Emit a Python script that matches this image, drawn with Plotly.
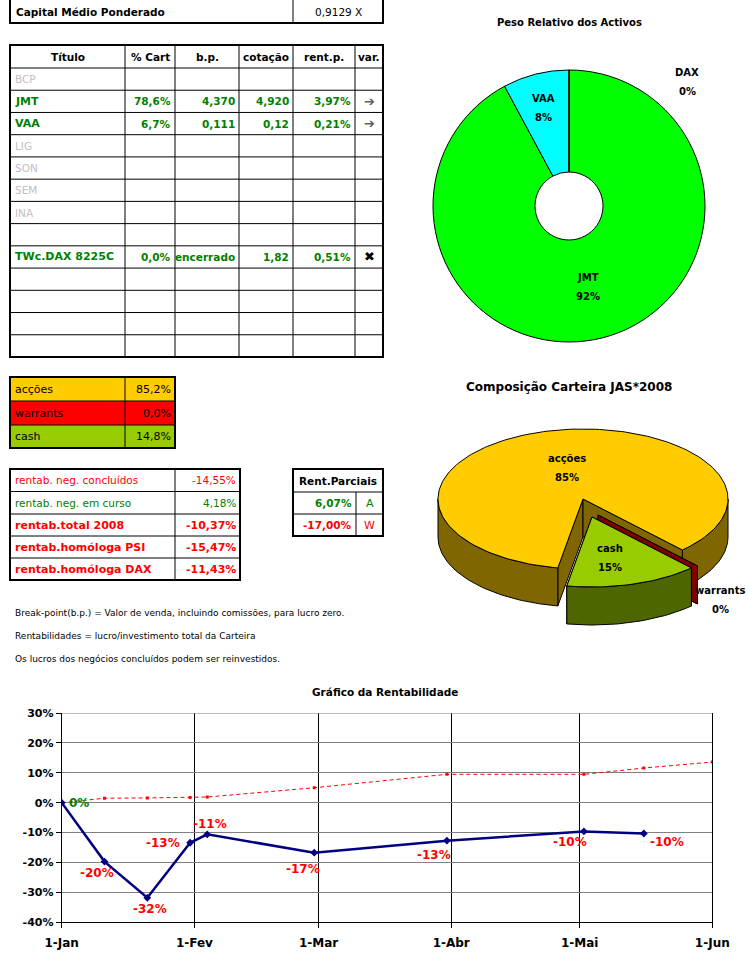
import numpy as np
import plotly.graph_objects as go

W, H = 749, 968
FONT = "DejaVu Sans"

# ---------------- data ----------------
capital_label = "Capital Médio Ponderado"
capital_value = "0,9129 X"

headers = ["Título", "% Cart", "b.p.", "cotação", "rent.p.", "var."]
titles = ["BCP", "JMT", "VAA", "LIG", "SON", "SEM", "INA", "", "TWc.DAX 8225C", "", "", "", ""]
pct_cart = ["", "78,6%", "6,7%", "", "", "", "", "", "0,0%", "", "", "", ""]
break_point = ["", "4,370", "0,111", "", "", "", "", "", "encerrado", "", "", "", ""]
cotacao = ["", "4,920", "0,12", "", "", "", "", "", "1,82", "", "", "", ""]
rent_p = ["", "3,97%", "0,21%", "", "", "", "", "", "0,51%", "", "", "", ""]
var_mark = ["", "➔", "➔", "", "", "", "", "", "✖", "", "", "", ""]
row_active = [False, True, True, False, False, False, False, False, True, False, False, False, False]

comp_labels = ["acções", "warrants", "cash"]
comp_values = [85.2, 0.0, 14.8]

rent_labels = ["rentab. neg. concluídos", "rentab. neg. em curso", "rentab.total 2008",
               "rentab.homóloga PSI", "rentab.homóloga DAX"]
rent_values = [-14.55, 4.18, -10.37, -15.47, -11.43]

parc_title = "Rent.Parciais"
parc_values = [6.07, -17.00]
parc_tags = ["A", "W"]

notes = ["Break-point(b.p.) = Valor de venda, incluindo comissões, para lucro zero.",
         "Rentabilidades = lucro/investimento total da Carteira",
         "Os lucros dos negócios concluídos podem ser reinvestidos."]

asset_names = ["JMT", "VAA", "DAX"]
asset_weights = [78.6, 6.7, 0.0]

perf_dates = ["2008-01-01", "2008-01-11", "2008-01-21", "2008-01-31", "2008-02-04",
              "2008-02-29", "2008-03-31", "2008-05-02", "2008-05-16"]
perf_values = [0.0, -0.197, -0.318, -0.134, -0.106, -0.167, -0.127, -0.096, -0.103]
bench_dates = perf_dates + ["2008-06-01"]
bench_values = [0.0, 0.015, 0.016, 0.017, 0.019, 0.050, 0.095, 0.095, 0.116, 0.136]

month_ticks = ["2008-01-01", "2008-02-01", "2008-03-01", "2008-04-01", "2008-05-01", "2008-06-01"]
month_labels = ["1-Jan", "1-Fev", "1-Mar", "1-Abr", "1-Mai", "1-Jun"]
pct_ticks = [-0.4, -0.3, -0.2, -0.1, 0.0, 0.1, 0.2, 0.3]

# ---------------- styles ----------------
GREEN = "#008000"
GREY = "#C0C0C0"
RED = "#FF0000"
comp_colors = ["#FFCC00", "#FF0000", "#99CC00"]
comp_side = ["#806600", "#800000", "#4D6600"]
asset_colors = ["#00FF00", "#00FFFF", "#FF00FF"]


def fmt(v, dec):
    return f"{v:.{dec}f}%".replace(".", ",")


shapes, annots = [], []


def line(x0, y0, x1, y1, w=1, color="black"):
    shapes.append(dict(type="line", xref="x2", yref="y2", x0=x0, y0=y0, x1=x1, y1=y1,
                       line=dict(color=color, width=w)))


def rect(x0, y0, x1, y1, fill=None, w=1):
    shapes.append(dict(type="rect", xref="x2", yref="y2", x0=x0, y0=y0, x1=x1, y1=y1,
                       line=dict(color="black", width=w),
                       fillcolor=fill if fill else "rgba(0,0,0,0)"))


def fillrect(x0, y0, x1, y1, fill):
    shapes.append(dict(type="rect", xref="x2", yref="y2", x0=x0, y0=y0, x1=x1, y1=y1,
                       line=dict(width=0), fillcolor=fill))


def text(x, y, s, color="black", size=11, bold=False, anchor="left", ref="2"):
    annots.append(dict(xref="x" + ref, yref="y" + ref, x=x, y=y, text=s, showarrow=False,
                       xanchor=anchor, yanchor="middle",
                       font=dict(family=FONT, size=size, color=color,
                                 weight="bold" if bold else "normal")))


# ---- capital box ----
rect(10, -3, 383, 23, w=2)
line(293, -3, 293, 23, w=1)
text(14, 12, capital_label, size=10.5, bold=True)
text(338, 12, capital_value, size=10.5, anchor="center")

# ---- main table ----
cols = [10, 125, 175, 239, 293, 355, 383]
rows = [45, 68] + [68 + 22.23 * (i + 1) for i in range(len(titles))]
for x in cols[1:-1]:
    line(x, rows[0], x, rows[-1])
for y in rows[1:-1]:
    line(cols[0], y, cols[-1], y)
rect(cols[0], rows[0], cols[-1], rows[-1], w=2)
for j, h in enumerate(headers):
    text((cols[j] + cols[j + 1]) / 2, (rows[0] + rows[1]) / 2, h, size=10.5, bold=True, anchor="center")
for i in range(len(titles)):
    yc = (rows[i + 1] + rows[i + 2]) / 2
    act = row_active[i]
    col = GREEN if act else GREY
    if titles[i]:
        text(13, yc, titles[i], color=col, size=11 if act else 10.5, bold=act)
    for j, arr in enumerate([pct_cart, break_point, cotacao, rent_p]):
        if arr[i]:
            text(cols[j + 2] - 2, yc, arr[i], color=col, size=10.5, bold=True, anchor="right")
    if var_mark[i]:
        mcol = "#606060" if var_mark[i] == "➔" else "black"
        text((cols[5] + cols[6]) / 2, yc, var_mark[i], color=mcol, size=13, anchor="center")

# ---- composition table ----
ccols = [10, 125, 175]
crows = [377, 401, 425, 448]
for i, lab in enumerate(comp_labels):
    fillrect(ccols[0], crows[i], ccols[2], crows[i + 1], comp_colors[i])
for y in crows[1:-1]:
    line(ccols[0], y, ccols[2], y)
line(ccols[1], crows[0], ccols[1], crows[-1])
rect(ccols[0], crows[0], ccols[2], crows[-1], w=2)
for i, lab in enumerate(comp_labels):
    yc = (crows[i] + crows[i + 1]) / 2
    text(13, yc, lab, size=11)
    text(ccols[2] - 2, yc, fmt(comp_values[i], 1), size=11, anchor="right")

# ---- rentabilidade table ----
rcols = [10, 175, 240]
rrows = [469, 491.5, 514, 536, 558, 580]
for y in rrows[1:-1]:
    line(rcols[0], y, rcols[2], y)
line(rcols[1], rrows[0], rcols[1], rrows[-1])
rect(rcols[0], rrows[0], rcols[2], rrows[-1], w=2)
for i, lab in enumerate(rent_labels):
    yc = (rrows[i] + rrows[i + 1]) / 2
    col = GREEN if rent_values[i] > 0 else RED
    bold = i >= 2
    text(13, yc, lab, color=col, size=11 if bold else 10.5, bold=bold)
    text(rcols[2] - 2, yc, fmt(rent_values[i], 2), color=col, size=11 if bold else 10.5,
         bold=bold, anchor="right")

# ---- rent parciais ----
pcols = [293, 356, 383]
prows = [469, 492, 514, 536]
for y in prows[1:-1]:
    line(pcols[0], y, pcols[2], y)
line(pcols[1], prows[1], pcols[1], prows[-1])
rect(pcols[0], prows[0], pcols[2], prows[-1], w=2)
text((pcols[0] + pcols[2]) / 2, (prows[0] + prows[1]) / 2, parc_title, size=10.5, bold=True, anchor="center")
for i, v in enumerate(parc_values):
    yc = (prows[i + 1] + prows[i + 2]) / 2
    col = GREEN if v > 0 else RED
    text(pcols[1] - 2, yc, fmt(v, 2), color=col, size=10.5, bold=True, anchor="right")
    text((pcols[1] + pcols[2]) / 2, yc, parc_tags[i], color=col, size=11, anchor="center")

# ---- notes ----
for i, n in enumerate(notes):
    text(13, 613 + 23 * i, n, size=9)

# ---- donut ----
fig = go.Figure()
dcx, dcy, dr = 569, 206, 136
fig.add_trace(go.Pie(labels=asset_names, values=asset_weights, sort=False, direction="clockwise",
                     rotation=0, hole=0.25, textinfo="none", hoverinfo="skip", showlegend=False,
                     marker=dict(colors=asset_colors, line=dict(color="black", width=1)),
                     domain=dict(x=[(dcx - dr) / W, (dcx + dr) / W],
                                 y=[1 - (dcy + dr) / H, 1 - (dcy - dr) / H])))
text(569, 22, "Peso Relativo dos Activos", size=10, bold=True, anchor="center")
tot = sum(asset_weights)
donut_label_pos = [(588, 277), (543, 98), (687, 72)]
for nme, w_, (lx, ly) in zip(asset_names, asset_weights, donut_label_pos):
    text(lx, ly, nme, size=10, bold=True, anchor="center")
    text(lx, ly + 19, f"{round(w_ / tot * 100)}%", size=10, bold=True, anchor="center")

# ---- 3D pie (composition) ----
cx, cy, rx, ry, depth = 583, 499, 145, 70, 38
start_deg = 100
offsets = [(0, 0), (15, 16), (9, 18)]


def P(t, ox, oy, dz=0.0):
    r = np.radians(t)
    return cx + ox + rx * np.cos(r), cy + oy + ry * np.sin(r) + dz


def arc(t0, t1, ox, oy, dz=0.0):
    n = max(2, int(abs(t1 - t0) / 1.5) + 2)
    t = np.radians(np.linspace(t0, t1, n))
    return list(cx + ox + rx * np.cos(t)), list(cy + oy + ry * np.sin(t) + dz)


def poly(xs, ys, color):
    fig.add_trace(go.Scatter(x=xs + [xs[0]], y=ys + [ys[0]], mode="lines", fill="toself",
                             fillcolor=color, line=dict(color="black", width=1),
                             xaxis="x2", yaxis="y2", hoverinfo="skip", showlegend=False))


total = sum(comp_values)
a = start_deg
for i, v in enumerate(comp_values):
    b = a + v / total * 360
    ox, oy = offsets[i]
    c0 = (cx + ox, cy + oy)
    for t in (a, b):
        px_, py_ = P(t, ox, oy)
        poly([c0[0], px_, px_, c0[0]], [c0[1], py_, py_ + depth, c0[1] + depth], comp_side[i])
    for k in range(-1, 3):
        s, e = max(a, 360 * k), min(b, 360 * k + 180)
        if e > s:
            tx, ty = arc(s, e, ox, oy)
            bx, by = arc(e, s, ox, oy, depth)
            poly(tx + bx, ty + by, comp_side[i])
    if b > a:
        tx, ty = arc(a, b, ox, oy)
        poly([c0[0]] + tx, [c0[1]] + ty, comp_colors[i])
    a = b

text(569, 387, "Composição Carteira JAS*2008", size=12, bold=True, anchor="center")
pie3d_label_pos = [(567, 458), (720, 590), (610, 548)]
for lab, v, (lx, ly) in zip(comp_labels, comp_values, pie3d_label_pos):
    text(lx, ly, lab, size=10, bold=True, anchor="center")
    text(lx, ly + 19, f"{round(v)}%", size=10, bold=True, anchor="center")

# ---- performance line chart ----
fig.add_trace(go.Scatter(x=bench_dates, y=bench_values, mode="lines+markers",
                         line=dict(color=RED, width=1, dash="4px,3px"),
                         marker=dict(color=RED, size=3, symbol="square"),
                         hoverinfo="skip", showlegend=False))
fig.add_trace(go.Scatter(x=perf_dates, y=perf_values, mode="lines+markers",
                         line=dict(color="#000080", width=2.5),
                         marker=dict(color="#000080", size=6, symbol="diamond"),
                         hoverinfo="skip", showlegend=False))

label_shift = [(17, 0), (-8, -11), (3, -11), (-27, 0), (3, 10), (-11, -16), (-13, -14), (-14, -11), (23, -8)]
for d, v, (sx, sy) in zip(perf_dates, perf_values, label_shift):
    col = GREEN if v >= 0 else RED
    annots.append(dict(xref="x", yref="y", x=d, y=v, text=f"{round(v * 100)}%", showarrow=False,
                       xshift=sx, yshift=sy, xanchor="center", yanchor="middle",
                       font=dict(family=FONT, size=12, color=col, weight="bold")))

text(385, 692, "Gráfico da Rentabilidade", size=10.5, bold=True, anchor="center")

shapes.append(dict(type="line", xref="x", yref="y", x0=month_ticks[0], x1=month_ticks[-1],
                   y0=pct_ticks[-1], y1=pct_ticks[-1], line=dict(color="#808080", width=1)))

x_l, x_r, y_t, y_b = 61.7, 712.3, 713.0, 922.3

fig.update_layout(
    width=W, height=H, margin=dict(l=0, r=0, t=0, b=0, pad=0, autoexpand=False),
    paper_bgcolor="white", plot_bgcolor="rgba(0,0,0,0)", showlegend=False,
    xaxis=dict(type="date", domain=[x_l / W, x_r / W], range=[month_ticks[0], month_ticks[-1]],
               tickvals=month_ticks, ticktext=month_labels, showgrid=True, gridcolor="black",
               gridwidth=1, showline=True, linecolor="black", linewidth=1, ticks="outside",
               ticklen=5, tickcolor="black", ticklabelstandoff=4, zeroline=False, automargin=False,
               tickfont=dict(family=FONT, size=12, color="black", weight="bold"), anchor="y"),
    yaxis=dict(domain=[1 - y_b / H, 1 - y_t / H], range=[pct_ticks[0], pct_ticks[-1]],
               tickvals=pct_ticks, ticktext=[f"{round(t * 100)}%" for t in pct_ticks],
               showgrid=True, gridcolor="#808080", gridwidth=1, showline=True, mirror=True,
               linecolor="black", linewidth=1, ticks="outside", ticklen=5, tickcolor="black",
               zeroline=False, automargin=False,
               tickfont=dict(family=FONT, size=11, color="black", weight="bold"), anchor="x"),
    xaxis2=dict(domain=[0, 1], range=[0, W], visible=False, showgrid=False, zeroline=False,
                anchor="y2", fixedrange=True, automargin=False),
    yaxis2=dict(domain=[0, 1], range=[H, 0], visible=False, showgrid=False, zeroline=False,
                anchor="x2", fixedrange=True, automargin=False),
    shapes=shapes, annotations=annots,
)

fig.write_html("out.html", config={"displayModeBar": False},
               post_script="document.body.style.margin='0';document.body.style.overflow='hidden';")
